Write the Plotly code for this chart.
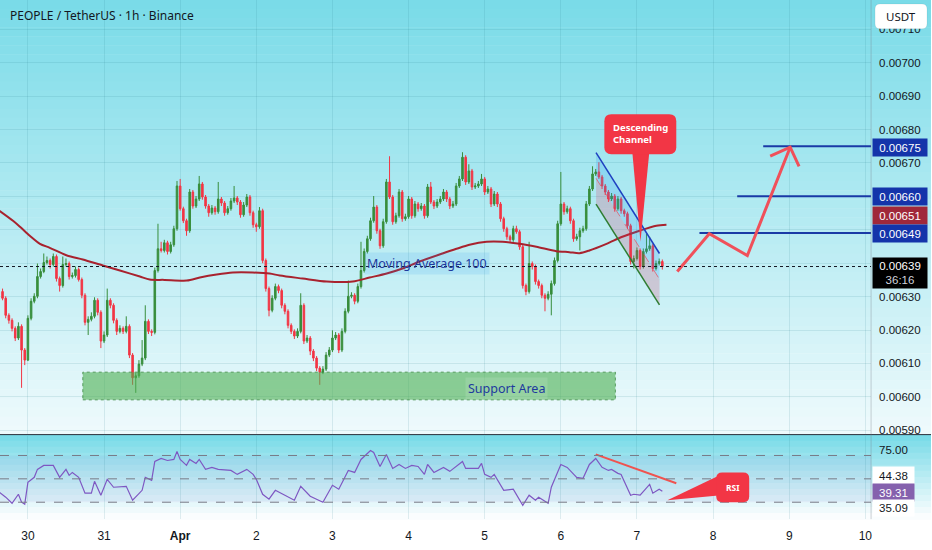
import plotly.graph_objects as go

W, H = 932, 550
PLOT_W = 872              # price scale starts here
MAIN_BOTTOM = 436
RSI_TOP, RSI_BOTTOM = 438, 522

FONT = "Noto Sans"
NUM_FONT = "Liberation Sans"
INK = "#131722"
GREEN = "#388e3c"
RED = "#f23645"
MA_COLOR = "#a8222e"
LEVEL_BLUE = "#1a3aa6"
RSI_PURPLE = "#7e57c2"
GRID = "rgba(40, 120, 140, 0.13)"

# x axis = hours since 30 Mar 00:00, one candle per hour
X_RANGE = [-8.8, 265.8]
PRICE_RANGE = [0.005890, 0.0071875]
RSI_RANGE = [15.5, 87.0]

DAY_HOURS = [0, 24, 48, 72, 96, 120, 144, 168, 192, 216, 240, 264]
DAY_LABELS = ["30", "31", "<b>Apr</b>", "2", "3", "4", "5", "6", "7", "8", "9", "10"]
PRICE_TICKS = [0.00590, 0.00600, 0.00610, 0.00620, 0.00630, 0.00640, 0.00650,
               0.00660, 0.00670, 0.00680, 0.00690, 0.00700, 0.00710]
HIDDEN_TICKS = [0.00640, 0.00650]   # covered by the price labels

# candles, prices in 1e-5 USDT
UNIT = 1e-5
FIRST_HOUR = -8
FIRST_OPEN = 631.5
CLOSE = [
    629.5, 624.4, 622.9, 620.5, 617.6, 621.1, 614.0, 611.0, 623.5, 628.6,
    630.1, 636.0, 637.5, 640.2, 640.8, 639.6, 642.0, 635.4, 633.3, 639.6,
    639.9, 636.0, 636.3, 638.1, 635.1, 630.4, 622.3, 623.2, 624.1, 628.9,
    625.3, 616.7, 618.5, 628.9, 627.4, 622.9, 619.6, 620.5, 619.6, 621.1,
    612.5, 605.7, 606.3, 609.8, 611.6, 622.6, 619.6, 619.3, 637.8, 644.3,
    643.8, 646.1, 643.5, 645.5, 650.3, 663.1, 656.3, 652.7, 649.7, 661.3,
    657.1, 659.2, 663.7, 659.8, 657.1, 655.1, 656.5, 655.4, 659.2, 658.0,
    655.1, 656.3, 658.6, 659.5, 658.3, 654.5, 657.4, 659.8, 655.1, 651.5,
    650.9, 655.7, 640.8, 632.4, 625.9, 629.5, 633.0, 631.8, 627.4, 625.6,
    621.4, 619.6, 618.2, 619.6, 627.4, 616.7, 617.6, 613.7, 611.6, 608.6,
    607.4, 608.3, 612.5, 614.0, 617.6, 618.5, 614.0, 619.6, 625.6, 630.1,
    630.4, 628.6, 633.0, 637.8, 643.5, 647.3, 652.7, 656.8, 649.7, 645.2,
    652.4, 664.3, 659.8, 652.4, 654.2, 661.3, 653.3, 653.9, 659.2, 654.2,
    657.7, 656.3, 657.1, 654.2, 662.8, 658.3, 657.1, 658.3, 659.2, 661.3,
    659.2, 657.1, 657.7, 663.1, 665.2, 671.7, 664.3, 667.6, 662.8, 663.1,
    663.7, 665.2, 661.3, 662.2, 657.7, 660.7, 657.7, 653.3, 650.3, 647.9,
    647.0, 650.3, 649.4, 644.9, 633.3, 631.5, 639.9, 639.0, 634.5, 633.3,
    630.4, 629.5, 630.7, 633.9, 640.8, 651.8, 657.7, 655.4, 656.3, 652.7,
    647.3, 647.9, 649.7, 650.3, 657.7, 662.2, 666.7, 667.3, 665.8, 663.1,
    661.3, 659.2, 660.1, 656.3, 659.2, 655.7, 654.8, 651.2, 640.5, 641.4,
    643.8, 639.0, 643.5, 644.3, 645.2, 638.4, 639.9, 640.5, 639.0,
]
HIGH = [
    632.4, 630.1, 625.0, 623.5, 621.1, 622.3, 621.7, 614.6, 624.4, 629.5,
    631.0, 639.9, 638.4, 642.9, 642.0, 641.4, 642.9, 642.6, 636.0, 642.0,
    641.4, 640.5, 637.2, 639.0, 638.7, 635.7, 631.0, 624.1, 625.3, 629.8,
    629.5, 625.9, 619.6, 632.4, 629.5, 628.0, 623.5, 621.4, 621.1, 624.1,
    621.7, 613.1, 607.2, 611.0, 617.0, 627.4, 623.2, 620.2, 638.7, 651.8,
    646.4, 647.0, 646.7, 646.4, 651.2, 664.6, 665.2, 656.9, 653.3, 662.2,
    661.9, 660.1, 666.1, 664.3, 660.4, 657.7, 657.4, 657.1, 664.3, 659.8,
    658.6, 657.1, 659.5, 663.1, 660.1, 658.9, 658.3, 660.7, 660.4, 655.7,
    652.1, 656.8, 656.3, 641.4, 633.0, 630.4, 633.9, 633.6, 632.4, 628.0,
    626.2, 622.0, 620.2, 620.5, 631.0, 628.0, 618.5, 618.2, 614.3, 612.2,
    609.2, 609.2, 613.4, 614.9, 619.9, 619.4, 619.1, 620.5, 626.5, 634.8,
    631.3, 631.0, 633.9, 646.4, 644.4, 648.2, 653.6, 660.1, 657.4, 650.3,
    653.3, 665.2, 672.0, 660.4, 655.1, 662.2, 661.9, 654.8, 660.1, 659.8,
    658.6, 658.3, 658.0, 657.7, 663.7, 664.3, 658.9, 659.2, 660.1, 662.2,
    661.9, 659.8, 658.6, 664.0, 666.1, 673.2, 672.3, 669.6, 668.2, 664.0,
    664.6, 666.7, 665.8, 663.1, 662.8, 661.6, 661.3, 658.3, 653.9, 650.9,
    648.5, 651.2, 651.2, 650.0, 645.5, 633.9, 646.4, 640.5, 639.6, 635.1,
    633.9, 631.0, 631.6, 634.8, 641.7, 652.7, 667.3, 658.3, 657.2, 656.9,
    653.3, 648.8, 650.6, 651.2, 658.6, 663.1, 669.0, 668.2, 670.2, 666.4,
    663.7, 661.9, 661.0, 660.7, 660.1, 659.8, 656.3, 655.4, 651.8, 642.3,
    644.7, 644.4, 644.4, 648.8, 647.9, 645.8, 640.8, 641.4, 641.1,
]
LOW = [
    628.9, 623.5, 621.9, 619.6, 616.7, 617.0, 602.7, 609.5, 610.7, 622.9,
    628.0, 629.5, 635.4, 637.0, 639.6, 638.4, 639.0, 634.5, 631.5, 632.7,
    639.0, 635.1, 635.4, 635.7, 634.5, 629.5, 621.4, 618.5, 622.6, 623.5,
    624.4, 614.6, 616.1, 617.9, 626.5, 622.0, 618.5, 619.0, 618.8, 619.0,
    611.6, 603.6, 601.2, 605.7, 609.2, 611.0, 618.8, 618.2, 618.7, 637.2,
    643.2, 643.2, 642.6, 642.9, 644.9, 649.7, 655.7, 652.0, 648.2, 649.1,
    656.3, 656.5, 658.6, 659.0, 656.3, 653.9, 654.5, 654.5, 654.8, 657.1,
    654.2, 654.5, 655.7, 658.0, 657.4, 653.6, 653.9, 656.8, 654.2, 650.6,
    649.4, 650.3, 640.0, 631.5, 624.1, 625.3, 628.9, 631.0, 626.5, 624.7,
    620.5, 618.8, 617.3, 617.6, 619.0, 615.8, 616.1, 612.5, 610.7, 607.7,
    603.6, 606.8, 607.7, 611.9, 613.4, 617.0, 613.1, 613.4, 619.0, 625.0,
    629.5, 627.7, 628.0, 632.4, 637.2, 642.9, 646.7, 652.1, 648.8, 644.3,
    644.6, 651.8, 659.2, 651.5, 651.8, 653.6, 652.4, 652.7, 653.3, 653.3,
    653.6, 655.4, 655.7, 653.3, 653.6, 657.7, 656.2, 656.5, 657.7, 658.6,
    658.3, 656.2, 656.5, 657.1, 662.5, 664.6, 663.4, 663.7, 661.9, 662.2,
    662.5, 663.1, 660.4, 660.7, 656.8, 657.1, 656.8, 652.4, 649.4, 647.0,
    646.1, 646.4, 648.8, 644.0, 632.4, 630.4, 630.9, 638.1, 633.6, 632.4,
    629.5, 625.6, 628.9, 624.4, 633.3, 640.2, 651.2, 654.5, 654.8, 651.8,
    646.4, 646.7, 643.8, 649.1, 649.7, 657.1, 661.6, 666.1, 665.2, 662.2,
    660.4, 658.3, 658.6, 655.4, 655.7, 654.8, 653.9, 650.3, 639.6, 638.4,
    640.8, 638.1, 638.4, 642.9, 643.7, 637.5, 637.8, 639.3, 638.1,
]

# Moving Average 100, read at points along the line
MA_HOURS = [-9, -4.7, -2.5, 0.6, 3.8, 6.9, 12.3, 17.3, 23.6, 29.0, 35.3, 38.4, 43.1,
            50.1, 54.2, 59.5, 64.6, 70.9, 76.2, 79.4, 86.6, 94.2, 102.4, 107.7, 113.1,
            118.1, 123.5, 130.7, 135.1, 139.2, 144.6, 149.6, 155.0, 160.3, 166.6, 170.7,
            173.9, 177.0, 182.4, 187.4, 192.8, 198.1, 201.3]
MA_VALUES = [655.7, 652.7, 650.9, 648.2, 645.8, 644.6, 642.3, 641.1, 639.3, 637.8, 636.0,
             635.1, 635.0, 634.8, 635.7, 636.6, 637.2, 637.2, 636.9, 636.3, 635.4, 634.5,
             634.5, 635.7, 636.9, 638.4, 640.5, 642.9, 644.3, 645.5, 646.4, 646.4, 645.8,
             644.9, 643.6, 643.3, 643.0, 643.8, 645.8, 647.9, 649.7, 651.2, 651.5]

# RSI(14)
RSI_HOURS = [-9, -7, -5, -3, -2, -1, 0, 2, 3, 5, 8, 10, 12, 13, 14, 16, 18, 20, 21, 23,
             25, 27, 31, 33, 36, 37, 39, 40, 42, 44, 46, 47, 48, 50, 51, 53, 54, 56, 58, 60,
             64, 66, 69, 71, 72, 74, 76, 78, 84, 86, 89, 93, 96, 98, 101, 103, 105, 108, 109,
             111, 113, 115, 117, 119, 121, 123, 125, 126, 128, 131, 133, 135, 137, 138, 142,
             143, 144, 146, 147, 150, 153, 156, 158, 160, 161, 164, 165, 168, 170, 173, 175,
             177, 179, 181, 183, 184, 186, 187, 190, 191, 193, 196, 197, 199, 200]
RSI_VALUES = [38.5, 34.3, 29.1, 36.8, 30.0, 28.3, 47.0, 51.3, 58.1, 61.5, 61.5, 51.3, 58.1,
              53.0, 55.5, 51.3, 37.7, 37.7, 47.9, 36.0, 49.6, 42.8, 43.6, 31.7, 40.2, 51.3,
              48.7, 64.9, 67.4, 65.7, 66.6, 73.4, 66.6, 61.5, 66.6, 63.2, 66.6, 58.1, 59.8,
              58.1, 57.2, 53.8, 58.1, 53.8, 49.6, 36.8, 32.6, 40.2, 31.7, 43.6, 35.1, 30.0,
              44.5, 41.1, 57.2, 55.5, 66.6, 74.3, 72.6, 60.6, 70.9, 58.9, 62.3, 58.9, 61.5,
              60.6, 53.8, 62.3, 55.5, 59.8, 56.4, 60.6, 64.9, 58.9, 58.9, 63.2, 53.8, 51.3,
              53.8, 40.2, 41.1, 27.4, 36.0, 31.7, 34.3, 29.1, 42.8, 62.3, 59.8, 51.3, 50.4,
              62.3, 67.4, 59.8, 57.2, 58.1, 54.7, 53.8, 36.0, 36.8, 36.0, 45.3, 37.7, 41.1, 39.3]
RSI_LEVELS = [70, 50, 30]

# drawings
SUPPORT_HOURS = [17.3, 185.2]
SUPPORT_PRICE = [0.005991, 0.006074]
CHANNEL_HOURS = [179.1, 199.1]
CHANNEL_TOP = [0.006731, 0.006429]
CHANNEL_MID = [0.006654, 0.006352]
CHANNEL_BOTTOM = [0.006577, 0.006275]
LEVELS = [0.00675, 0.00660, 0.00649]
LEVEL_START = [231.8, 223.6, 211.7]
LAST_PRICE = 0.00639
PROJ_HOURS = [204.7, 214.8, 226.8, 240.3]
PROJ_PRICE = [0.006375, 0.006488, 0.006423, 0.006747]
HEAD_HOURS = [234.0, 240.3, 243.1]
HEAD_PRICE = [0.006720, 0.006747, 0.006690]
RSI_DIV_HOURS = [179, 204.4]
RSI_DIV_VALUES = [70.9, 46.2]


def px(x):
    return x / W


def py(y):
    return 1 - y / H


def main_px(h, p):
    x = (h - X_RANGE[0]) / (X_RANGE[1] - X_RANGE[0]) * PLOT_W
    y = (PRICE_RANGE[1] - p) / (PRICE_RANGE[1] - PRICE_RANGE[0]) * MAIN_BOTTOM
    return x, y


def rsi_px(h, v):
    x = (h - X_RANGE[0]) / (X_RANGE[1] - X_RANGE[0]) * PLOT_W
    y = RSI_TOP + (RSI_RANGE[1] - v) / (RSI_RANGE[1] - RSI_RANGE[0]) * (RSI_BOTTOM - RSI_TOP)
    return x, y


def rounded(x0, y0, x1, y1, r):
    return (f"M {px(x0 + r)} {py(y0)} L {px(x1 - r)} {py(y0)} Q {px(x1)} {py(y0)} {px(x1)} {py(y0 + r)} "
            f"L {px(x1)} {py(y1 - r)} Q {px(x1)} {py(y1)} {px(x1 - r)} {py(y1)} "
            f"L {px(x0 + r)} {py(y1)} Q {px(x0)} {py(y1)} {px(x0)} {py(y1 - r)} "
            f"L {px(x0)} {py(y0 + r)} Q {px(x0)} {py(y0)} {px(x0 + r)} {py(y0)} Z")


def tri(points):
    return "M " + " L ".join(f"{px(x)} {py(y)}" for x, y in points) + " Z"


shapes = []


def gradient(y0, y1, c0, c1, n):
    for i in range(n):
        t = i / (n - 1)
        r, g, b = (round(c0[k] + (c1[k] - c0[k]) * t) for k in range(3))
        shapes.append(dict(type="rect", xref="paper", yref="paper", x0=0, x1=1,
                           y0=py(y0 + (y1 - y0) * (i + 1) / n + 0.5), y1=py(y0 + (y1 - y0) * i / n),
                           fillcolor=f"rgb({r},{g},{b})", line=dict(width=0), layer="below"))


gradient(0, 437, (122, 219, 232), (238, 250, 252), 48)
gradient(437, 522, (122, 219, 232), (250, 253, 254), 14)

# pane separators
shapes.append(dict(type="line", xref="paper", yref="paper", x0=0, x1=1, y0=py(437), y1=py(437),
                   line=dict(color="#2a2e39", width=1)))
shapes.append(dict(type="line", xref="paper", yref="paper", x0=px(PLOT_W), x1=px(PLOT_W),
                   y0=py(0), y1=py(RSI_BOTTOM), line=dict(color="rgba(120,123,134,0.35)", width=1)))

# RSI band and levels
shapes.append(dict(type="rect", xref="x", yref="y2", x0=X_RANGE[0], x1=X_RANGE[1], y0=30, y1=70,
                   fillcolor="rgba(126,87,194,0.07)", line=dict(width=0), layer="below"))
for lv in RSI_LEVELS:
    shapes.append(dict(type="line", xref="x", yref="y2", x0=X_RANGE[0], x1=X_RANGE[1], y0=lv, y1=lv,
                       line=dict(color="#787b86", width=1, dash="dash")))

# support area
shapes.append(dict(type="rect", xref="x", yref="y", x0=SUPPORT_HOURS[0], x1=SUPPORT_HOURS[1],
                   y0=SUPPORT_PRICE[0], y1=SUPPORT_PRICE[1], fillcolor="rgba(76,175,80,0.6)",
                   line=dict(color="rgba(46,125,50,0.7)", width=1, dash="dot"), layer="above"))

# descending channel
h0, h1 = CHANNEL_HOURS
shapes.append(dict(type="path", xref="x", yref="y", layer="above", line=dict(width=0),
                   fillcolor="rgba(33,150,243,0.2)",
                   path=f"M {h0} {CHANNEL_TOP[0]} L {h1} {CHANNEL_TOP[1]} L {h1} {CHANNEL_MID[1]} L {h0} {CHANNEL_MID[0]} Z"))
shapes.append(dict(type="path", xref="x", yref="y", layer="above", line=dict(width=0),
                   fillcolor="rgba(220,60,100,0.22)",
                   path=f"M {h0} {CHANNEL_MID[0]} L {h1} {CHANNEL_MID[1]} L {h1} {CHANNEL_BOTTOM[1]} L {h0} {CHANNEL_BOTTOM[0]} Z"))
shapes.append(dict(type="line", xref="x", yref="y", x0=h0, x1=h1, y0=CHANNEL_TOP[0], y1=CHANNEL_TOP[1],
                   line=dict(color="#1e40c0", width=1.5)))
shapes.append(dict(type="line", xref="x", yref="y", x0=h0, x1=h1, y0=CHANNEL_MID[0], y1=CHANNEL_MID[1],
                   line=dict(color="rgba(242,54,69,0.6)", width=1, dash="dash")))
shapes.append(dict(type="line", xref="x", yref="y", x0=h0, x1=h1, y0=CHANNEL_BOTTOM[0], y1=CHANNEL_BOTTOM[1],
                   line=dict(color="#2e7d32", width=1.5)))

# last price line
shapes.append(dict(type="line", xref="x", yref="y", x0=X_RANGE[0], x1=X_RANGE[1], y0=LAST_PRICE, y1=LAST_PRICE,
                   line=dict(color="#131722", width=1, dash="dot")))

# callouts
CALLOUT = "#f23645"
tip_x, tip_y = main_px(193.1, 0.006464)
shapes.append(dict(type="path", xref="paper", yref="paper", layer="above", line=dict(width=0),
                   fillcolor=CALLOUT, path=tri([(633, 153), (650, 153), (tip_x, tip_y)])))
shapes.append(dict(type="path", xref="paper", yref="paper", layer="above", line=dict(width=0),
                   fillcolor=CALLOUT, path=rounded(605, 115, 677, 155, 7)))
rtip_x, rtip_y = rsi_px(201.6, 31.7)
shapes.append(dict(type="path", xref="paper", yref="paper", layer="above", line=dict(width=0),
                   fillcolor=CALLOUT, path=tri([(722, 477), (722, 498), (rtip_x, rtip_y)])))
shapes.append(dict(type="path", xref="paper", yref="paper", layer="above", line=dict(width=0),
                   fillcolor=CALLOUT, path=rounded(717, 475, 750, 505, 6)))

# USDT box
shapes.append(dict(type="path", xref="paper", yref="paper", layer="above",
                   line=dict(color="rgba(0,0,0,0.06)", width=1), fillcolor="white",
                   path=rounded(876, 4, 928, 29, 5)))

fig = go.Figure()

opens = [FIRST_OPEN * UNIT] + [c * UNIT for c in CLOSE[:-1]]
fig.add_trace(go.Candlestick(
    x=list(range(FIRST_HOUR, FIRST_HOUR + len(CLOSE))),
    open=opens,
    high=[v * UNIT for v in HIGH],
    low=[v * UNIT for v in LOW],
    close=[v * UNIT for v in CLOSE],
    increasing=dict(line=dict(color=GREEN, width=1), fillcolor=GREEN),
    decreasing=dict(line=dict(color=RED, width=1), fillcolor=RED),
    whiskerwidth=0, xaxis="x", yaxis="y",
))

fig.add_trace(go.Scatter(x=MA_HOURS, y=[v * UNIT for v in MA_VALUES], mode="lines",
                         line=dict(color=MA_COLOR, width=2, shape="spline", smoothing=0.8),
                         xaxis="x", yaxis="y"))

for lvl, start in zip(LEVELS, LEVEL_START):
    fig.add_trace(go.Scatter(x=[start, X_RANGE[1]], y=[lvl, lvl], mode="lines",
                             line=dict(color=LEVEL_BLUE, width=2), xaxis="x", yaxis="y"))

fig.add_trace(go.Scatter(x=PROJ_HOURS, y=PROJ_PRICE, mode="lines",
                         line=dict(color="#f0505a", width=3), xaxis="x", yaxis="y"))
fig.add_trace(go.Scatter(x=HEAD_HOURS, y=HEAD_PRICE, mode="lines",
                         line=dict(color="#f0505a", width=3), xaxis="x", yaxis="y"))

fig.add_trace(go.Scatter(x=RSI_HOURS, y=RSI_VALUES, mode="lines",
                         line=dict(color=RSI_PURPLE, width=1.2), xaxis="x", yaxis="y2"))
fig.add_trace(go.Scatter(x=RSI_DIV_HOURS, y=RSI_DIV_VALUES, mode="lines",
                         line=dict(color="#ef5350", width=2), xaxis="x", yaxis="y2"))

annotations = []


def side_box(text, y_center, bg, color="white", height=13, width=50):
    annotations.append(dict(xref="paper", yref="paper", x=px(873), y=py(y_center),
                            xanchor="left", yanchor="middle", text=text, showarrow=False,
                            bgcolor=bg, width=width, height=height, borderpad=2, align="center",
                            font=dict(family=NUM_FONT, size=11.5, color=color)))


side_box("0.00675", main_px(0, 0.00675)[1] + 1.5, "#1434aa")
side_box("0.00660", main_px(0, 0.00660)[1], "#1434aa")
side_box("0.00651", 216.5, "#a0283a")
side_box("0.00649", main_px(0, 0.00649)[1], "#1434aa")
side_box("0.00639<br><span style='color:#d1d4dc'>36:16</span>", main_px(0, LAST_PRICE)[1] + 7,
         "#000000", height=26)
side_box("44.38", 478, "white", color=INK, height=13, width=37)
side_box("39.31", 495, "#8561ad", height=13, width=37)
side_box("35.09", 511, "white", color=INK, height=12, width=37)

annotations.append(dict(xref="paper", yref="paper", x=px(8), y=py(16), xanchor="left", yanchor="middle",
                        text="PEOPLE / TetherUS · 1h · Binance", showarrow=False,
                        font=dict(family=FONT, size=12, color=INK)))
annotations.append(dict(xref="paper", yref="paper", x=px(902), y=py(16.5), xanchor="center", yanchor="middle",
                        text="USDT", showarrow=False, font=dict(family=FONT, size=11.5, color=INK)))
annotations.append(dict(xref="x", yref="y", x=125.7, y=0.006399, text="Moving Average 100", showarrow=False,
                        bgcolor="rgba(33,150,243,0.13)", borderpad=2,
                        font=dict(family=FONT, size=12.5, color="#1e3a9e")))
annotations.append(dict(xref="x", yref="y", x=150.9, y=0.006024, text="Support Area", showarrow=False,
                        bgcolor="rgba(255,255,255,0.12)", borderpad=2,
                        font=dict(family=FONT, size=12.5, color="#1e3a9e")))
annotations.append(dict(xref="paper", yref="paper", x=px(641), y=py(134), xanchor="center", yanchor="middle",
                        text="<b>Descending<br>Channel</b>", showarrow=False, align="left",
                        font=dict(family=FONT, size=9.5, color="white")))
annotations.append(dict(xref="paper", yref="paper", x=px(733.5), y=py(490), xanchor="center", yanchor="middle",
                        text="<b>RSI</b>", showarrow=False, font=dict(family=FONT, size=8.5, color="white")))

fig.update_layout(
    width=W, height=H, autosize=False,
    margin=dict(l=0, r=0, t=0, b=0),
    paper_bgcolor="white", plot_bgcolor="rgba(0,0,0,0)",
    showlegend=False, hovermode=False,
    xaxis=dict(domain=[0, PLOT_W / W], range=X_RANGE, anchor="y2",
               tickmode="array", tickvals=DAY_HOURS, ticktext=DAY_LABELS,
               showgrid=True, gridcolor=GRID, gridwidth=1, zeroline=False, showline=False,
               ticks="", ticklabelstandoff=8, rangeslider=dict(visible=False), fixedrange=True,
               tickfont=dict(family=NUM_FONT, size=12, color=INK)),
    yaxis=dict(domain=[1 - MAIN_BOTTOM / H, 1], range=PRICE_RANGE, side="right", anchor="x",
               tickmode="array", tickvals=PRICE_TICKS,
               ticktext=["" if v in HIDDEN_TICKS else f"{v:.5f}" for v in PRICE_TICKS],
               showgrid=True, gridcolor=GRID, gridwidth=1, zeroline=False, showline=False,
               ticks="", ticklabelstandoff=7, fixedrange=True,
               tickfont=dict(family=NUM_FONT, size=11.5, color=INK)),
    yaxis2=dict(domain=[1 - RSI_BOTTOM / H, 1 - RSI_TOP / H], range=RSI_RANGE, side="right", anchor="x",
                tickmode="array", tickvals=[75], ticktext=["75.00"],
                showgrid=False, zeroline=False, showline=False, ticks="", ticklabelstandoff=7,
                fixedrange=True, tickfont=dict(family=NUM_FONT, size=11.5, color=INK)),
    shapes=shapes,
    annotations=annotations,
)

# the page's default body margin would push the 932px figure out of the window
fig.write_html("out.html", config={"displayModeBar": False},
               post_script="document.body.style.margin='0';document.body.style.overflow='hidden';")
